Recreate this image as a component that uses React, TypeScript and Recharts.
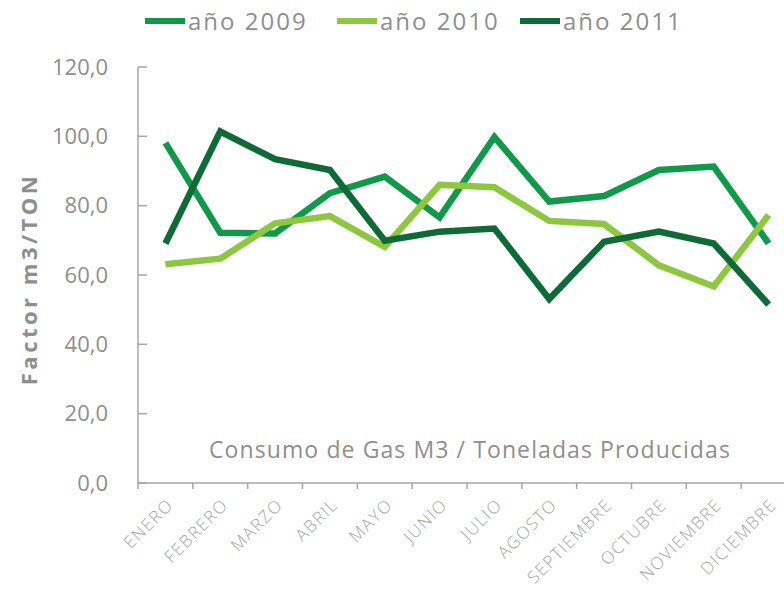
import { LineChart, Line, XAxis, YAxis, Legend, Label } from 'recharts';

const months = ['ENERO', 'FEBRERO', 'MARZO', 'ABRIL', 'MAYO', 'JUNIO', 'JULIO', 'AGOSTO', 'SEPTIEMBRE', 'OCTUBRE', 'NOVIEMBRE', 'DICIEMBRE'];
const y2009 = [98.1, 72.2, 72.0, 83.6, 88.4, 76.6, 99.8, 81.2, 82.8, 90.3, 91.3, 69.1];
const y2010 = [63.1, 64.7, 74.9, 77.0, 68.1, 86.0, 85.3, 75.6, 74.7, 62.8, 56.7, 77.3];
const y2011 = [69.1, 101.4, 93.4, 90.3, 69.9, 72.5, 73.4, 53.1, 69.6, 72.5, 69.1, 51.5];
const yTicks = [0, 20, 40, 60, 80, 100, 120];

const series = [
  { key: 'a2009', name: 'año 2009', color: '#11994a', width: 192 },
  { key: 'a2010', name: 'año 2010', color: '#8dc63f', width: 183 },
  { key: 'a2011', name: 'año 2011', color: '#0e6b37', width: 180 },
];

const data = months.map((m, i) => ({ month: m, a2009: y2009[i], a2010: y2010[i], a2011: y2011[i] }));

const FONT = '"Open Sans", "Liberation Sans", sans-serif';
const GRAY = '#8e8e8e';
const AXIS = '#a6a6a6';

// label plus the tick marks on the category boundaries (Excel style)
function MonthTick({ x, y, payload, index, visibleTicksCount }: any) {
  const off = payload.offset || 0;
  const axisY = y - 8;
  return (
    <g>
      <line x1={x - off} x2={x - off} y1={axisY} y2={axisY + 6} stroke={AXIS} strokeWidth={1.5} />
      {index === visibleTicksCount - 1 && (
        <line x1={x + off} x2={x + off} y1={axisY} y2={axisY + 6} stroke={AXIS} strokeWidth={1.5} />
      )}
      <g transform={`translate(${x + 9},${y + 15})`}>
        <text transform="rotate(-45)" textAnchor="end" fill="#a4a4a4" fontSize={17} letterSpacing={1.5}
          fontFamily={FONT} fontWeight={300}>
          {payload.value}
        </text>
      </g>
    </g>
  );
}

function SeriesLegend() {
  return (
    <div style={{ display: 'flex', paddingLeft: 145, fontFamily: FONT }}>
      {series.map((s) => (
        <div key={s.key} style={{ display: 'flex', alignItems: 'center', width: s.width }}>
          <div style={{ width: 40, height: 6, background: s.color, marginRight: 3 }} />
          <span style={{ fontSize: 24, color: GRAY, letterSpacing: 2 }}>{s.name}</span>
        </div>
      ))}
    </div>
  );
}

function AxisTitle({ viewBox }: any) {
  const cx = 28;
  const cy = viewBox.y + viewBox.height / 2 + 4;
  return (
    <text x={cx} y={cy} transform={`rotate(-90, ${cx}, ${cy})`} textAnchor="middle" dominantBaseline="central"
      fill={GRAY} fontSize={22} fontWeight="bold" letterSpacing={3.5} fontFamily={FONT}>
      Factor m3/TON
    </text>
  );
}

export default function App() {
  return (
    <div style={{ position: 'absolute', left: 0, top: 0, width: 784, height: 590, overflow: 'hidden', background: '#fff' }}>
      <LineChart width={800} height={590} data={data} margin={{ top: 27, right: 4, bottom: 0, left: 0 }}>
        <Legend verticalAlign="top" content={<SeriesLegend />} wrapperStyle={{ top: 4, left: 0, width: 800, height: 40 }} />
        <XAxis dataKey="month" scale="band" height={107} interval={0} tick={<MonthTick />}
          axisLine={{ stroke: AXIS, strokeWidth: 1.5 }} tickLine={false} />
        <YAxis width={138} domain={[0, 120]} ticks={yTicks} interval={0} tickSize={-9} tickMargin={39}
          tickFormatter={(v: number) => v.toFixed(1).replace('.', ',')}
          tick={{ fill: GRAY, fontSize: 22, fontFamily: FONT }}
          axisLine={{ stroke: AXIS, strokeWidth: 1.5 }} tickLine={{ stroke: AXIS, strokeWidth: 1.5 }}>
          <Label content={<AxisTitle />} />
        </YAxis>
        {series.map((s) => (
          <Line key={s.key} dataKey={s.key} name={s.name} stroke={s.color} strokeWidth={6.5} dot={false}
            activeDot={false} isAnimationActive={false} />
        ))}
      </LineChart>
      <div style={{ position: 'absolute', left: 0, width: 940, top: 433, textAlign: 'center', fontFamily: FONT,
        fontSize: 23, letterSpacing: 1.1, color: GRAY }}>
        Consumo de Gas M3 / Toneladas Producidas
      </div>
    </div>
  );
}
